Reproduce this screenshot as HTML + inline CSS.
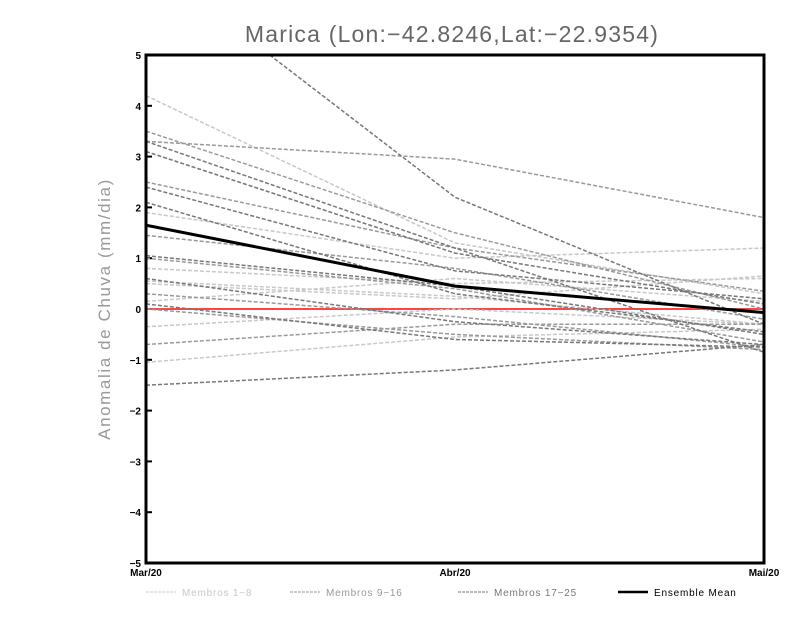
<!DOCTYPE html>
<html><head><meta charset="utf-8"><style>
body{margin:0;background:#fff;width:800px;height:618px;overflow:hidden;font-family:"Liberation Sans",sans-serif}
</style></head><body>
<svg width="800" height="618">
<defs><clipPath id="pc"><rect x="146" y="55" width="618" height="508"/></clipPath></defs>
<text x="452" y="42" text-anchor="middle" font-size="23" letter-spacing="1.2" fill="#666">Marica (Lon:−42.8246,Lat:−22.9354)</text>
<text transform="translate(110,309) rotate(-90)" text-anchor="middle" font-size="17" letter-spacing="1.6" fill="#999">Anomalia de Chuva (mm/dia)</text>
<g id="yt"></g><g id="xt"></g>
<g id="lines" clip-path="url(#pc)"></g>
<rect x="146" y="55" width="618" height="508" fill="none" stroke="#000" stroke-width="3"/>
<g id="legend"></g>
</svg>
<script>
const categories=["Mar/20","Abr/20","Mai/20"];
const yTicks=[-5,-4,-3,-2,-1,0,1,2,3,4,5];
const members1=[[4.2,1.3,0.3],[1.9,1.0,1.2],[0.8,0.5,0.6],[0.5,0.2,0.65],[0.15,0.6,0.15],[-0.35,0.0,-0.3],[-1.05,-0.55,-0.4],[0.55,0.25,-0.3]];
const members2=[[3.5,1.5,0.0],[3.3,2.95,1.8],[2.5,1.2,0.35],[1.45,0.8,-0.2],[1.0,0.4,-0.65],[0.3,-0.15,-0.75],[-0.7,-0.3,-0.3],[0.0,-0.5,-0.8]];
const members3=[[6.87,2.2,-0.3],[3.3,1.2,-0.85],[3.1,1.1,0.1],[2.4,0.75,0.2],[2.1,0.3,-0.45],[0.6,-0.25,-0.7],[0.1,-0.6,-0.75],[-1.5,-1.2,-0.7],[1.05,0.45,-0.5]];
const ensembleMean=[1.65,0.45,-0.07];
const NS="http://www.w3.org/2000/svg";
const X=i=>146+i*309, Y=v=>309-v*50.8;
function mk(t,a,p){const e=document.createElementNS(NS,t);for(const k in a)e.setAttribute(k,a[k]);p.appendChild(e);return e;}
const yt=document.getElementById('yt');
yTicks.forEach(v=>{
 const l=mk('line',{x1:146,x2:152,y1:Y(v),y2:Y(v),stroke:'#000','stroke-width':2},yt);
 
 
 const t=mk('text',{x:141,y:Y(v)+4,'text-anchor':'end','font-size':10,'font-weight':'bold'},yt);
 
 
 t.textContent=v<0?'−'+(-v):v;
});
const xt=document.getElementById('xt');
categories.forEach((c,i)=>{
 const t=mk('text',{x:X(i),y:576,'text-anchor':'middle','font-size':10,'font-weight':'bold'},xt);
 
 
 t.textContent=c;
});
const g=document.getElementById('lines');
function pts(a){return a.map((v,i)=>X(i)+','+Y(v)).join(' ');}
const zl=mk('line',{x1:146,x2:764,y1:Y(0),y2:Y(0),stroke:'#f44','stroke-width':2},g);


[[members1,'#c8c8c8','members-1-8'],[members2,'#999','members-9-16'],[members3,'#777','members-17-25']].forEach(([arr,col,nm])=>{
 arr.forEach(a=>{
  const p=mk('polyline',{points:pts(a),fill:'none',stroke:col,'stroke-width':1.5,'stroke-dasharray':'4,2'},g);
  
  
 });
});
const m=mk('polyline',{points:pts(ensembleMean),fill:'none',stroke:'#000','stroke-width':3},g);


const lg=document.getElementById('legend');
[[146,'#c8c8c8','Membros 1−8',0],[290,'#999','Membros 9−16',0],[458,'#777','Membros 17−25',0],[618,'#000','Ensemble Mean',1]].forEach(([x,c,txt,solid])=>{
 const l=mk('line',{x1:x,x2:x+30,y1:592,y2:592,stroke:c,'stroke-width':solid?2.5:1},lg);
 if(!solid)l.setAttribute('stroke-dasharray','3,1');
 
 
 const t=mk('text',{x:x+36,y:596,'font-size':10,'letter-spacing':0.8,fill:solid?'#000':c},lg);
 
 
 t.textContent=txt;
});
</script>
</body></html>
